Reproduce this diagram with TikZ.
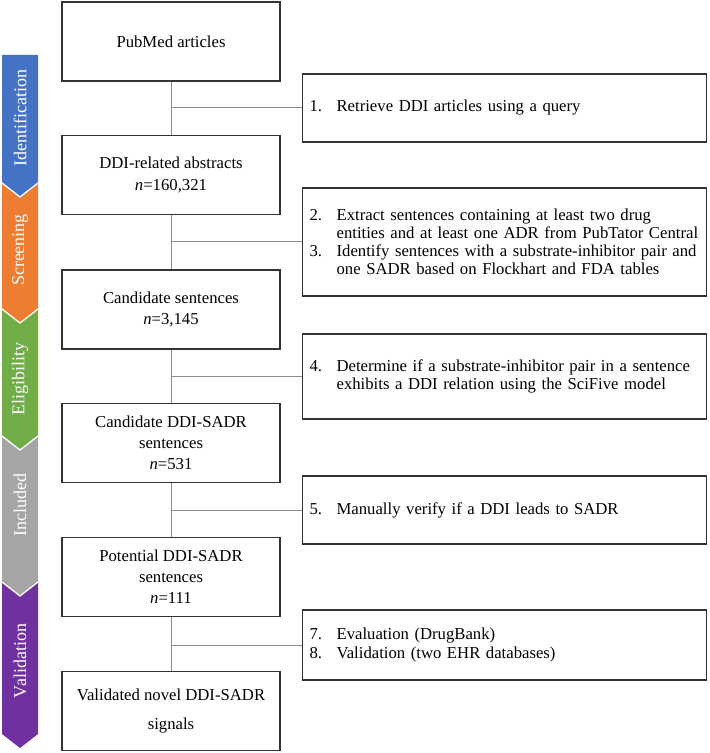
\documentclass[tikz,border=0pt]{standalone}
\usepackage{fontspec}
\setmainfont{Liberation Serif}

\definecolor{identblue}{HTML}{4472C4}
\definecolor{screenorange}{HTML}{ED7D31}
\definecolor{eligreen}{HTML}{70AD47}
\definecolor{inclgray}{HTML}{A5A5A5}
\definecolor{validpurple}{HTML}{7030A0}

\tikzset{
  stage/.style={draw=black!80, line width=0.6pt, align=center,
    minimum width=109pt, minimum height=39.5pt, inner sep=2pt,
    font=\fontsize{8.35pt}{10.6pt}\selectfont},
  stepbox/.style={draw=black!80, line width=0.6pt, align=left,
    text width=195pt, inner xsep=3.5pt, anchor=west,
    font=\fontsize{8.35pt}{9.05pt}\selectfont},
  link/.style={draw=black!45, line width=0.5pt},
  band/.style={text=white, rotate=90, font=\fontsize{9pt}{10pt}\selectfont}
}
\newcommand{\itemno}[1]{\makebox[13.5pt][l]{#1}}
\newcommand{\contline}{\hspace*{13.5pt}}

\begin{document}
\begin{tikzpicture}[x=0.5pt, y=-0.5pt]
    \useasboundingbox (0,0) rectangle (709,753);

    % phase bands on the left
    \foreach \top/\bot/\col/\notch/\mid/\lbl [count=\i] in {
        55/182/identblue/0/118/Identification,
        184/308/screenorange/14/250/Screening,
        310/435/eligreen/14/379/Eligibility,
        437/581/inclgray/14/505/Included,
        583/734/validpurple/14/661/Validation}{
        \fill[\col] (2,\top) -- (20,\top+\notch) -- (38,\top) -- (38,\bot) -- (20,\bot+14) -- (2,\bot) -- cycle;
        \node[band] (P_\i) at (20,\mid) {\lbl};
    }

    % main column
    \node[stage] (B_1) at (171,41.5) {PubMed articles};
    \node[stage] (B_2) at (171,175) {DDI-related abstracts\\\textit{n}=160,321};
    \node[stage] (B_3) at (171,309.5) {Candidate sentences\\\textit{n}=3,145};
    \node[stage] (B_4) at (171,443) {Candidate DDI-SADR\\sentences\\\textit{n}=531};
    \node[stage] (B_5) at (171,577) {Potential DDI-SADR\\sentences\\\textit{n}=111};
    \node[stage] (B_6) at (171,711) {Validated novel DDI-SADR\\[3.5pt]signals};

    % steps
    \node[stepbox, minimum height=34pt] (S_1) at (302,108) {\itemno{1.}Retrieve DDI articles using a query};
    \node[stepbox, minimum height=54pt] (S_2) at (302,242) {\itemno{2.}Extract sentences containing at least two drug\\
        \contline entities and at least one ADR from PubTator Central\\
        \itemno{3.}Identify sentences with a substrate-inhibitor pair and\\
        \contline one SADR based on Flockhart and FDA tables};
    \node[stepbox, minimum height=42.5pt] (S_3) at (302,376.5) {\itemno{4.}Determine if a substrate-inhibitor pair in a sentence\\
        \contline exhibits a DDI relation using the SciFive model};
    \node[stepbox, minimum height=34pt] (S_4) at (302,510) {\itemno{5.}Manually verify if a DDI leads to SADR};
    \node[stepbox, minimum height=35pt] (S_5) at (302,645) {\itemno{7.}Evaluation (DrugBank)\\
        \itemno{8.}Validation (two EHR databases)};

    \draw[link] (B_1) -- (B_2) -- (B_3) -- (B_4) -- (B_5) -- (B_6);
    \draw[link] (S_1.west) -- (S_1.west -| B_1);
    \draw[link] (S_2.west) -- (S_2.west -| B_2);
    \draw[link] (S_3.west) -- (S_3.west -| B_3);
    \draw[link] (S_4.west) -- (S_4.west -| B_4);
    \draw[link] (S_5.west) -- (S_5.west -| B_5);
\end{tikzpicture}
\end{document}
